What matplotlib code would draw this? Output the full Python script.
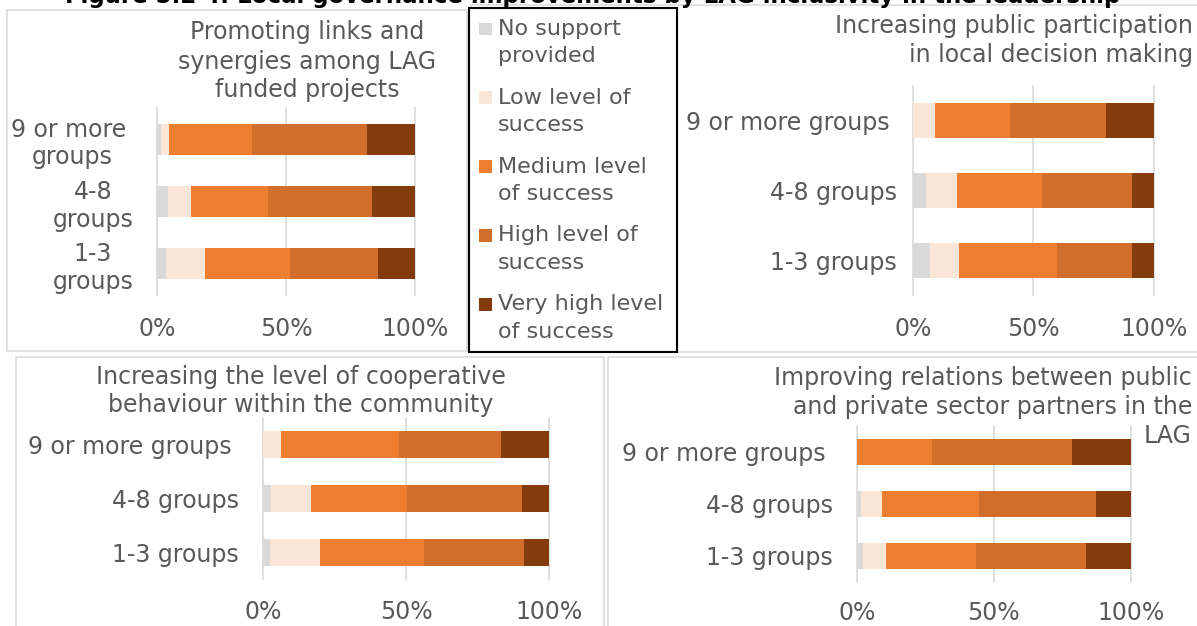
import numpy as np
import matplotlib
matplotlib.use("Agg")
import matplotlib.pyplot as plt
from matplotlib.patches import Rectangle
from matplotlib.ticker import PercentFormatter, MultipleLocator

# Share of LAGs (%) per level of success, rows: 9 or more / 4-8 / 1-3 groups
groups = ["9 or more groups ", "4-8 groups", "1-3 groups"]
groups_wrapped = ["9 or more \ngroups", "4-8\ngroups", "1-3\ngroups"]
levels = ["No support provided", "Low level of success", "Medium level of success",
          "High level of success", "Very high level of success"]
legend_lines = [["No support", "provided"], ["Low level of", "success"],
                ["Medium level", "of success"], ["High level of", "success"],
                ["Very high level", "of success"]]

links = [[1.5, 3.3, 32.1, 44.6, 18.5],
         [4.3, 8.7, 30.2, 40.3, 16.5],
         [3.6, 15.1, 32.7, 34.1, 14.5]]
participation = [[0.0, 9.3, 30.9, 39.9, 19.9],
                 [5.7, 12.7, 35.1, 37.4, 9.1],
                 [7.2, 12.2, 40.4, 31.3, 8.9]]
cooperation = [[0.0, 6.1, 41.5, 35.4, 17.0],
               [2.7, 14.1, 33.3, 40.3, 9.6],
               [2.2, 17.5, 36.4, 35.0, 8.9]]
relations = [[0.0, 0.0, 27.6, 50.9, 21.5],
             [1.6, 7.8, 35.4, 42.7, 12.5],
             [2.3, 8.4, 32.7, 40.3, 16.3]]

level_colors = ["#D9D9D9", "#FBE5D6", "#ED7D31", "#D26E2B", "#843C0C"]
TEXT = "#595959"
GRID = "#D9D9D9"
FS = 17

W, H = 1197, 626
fig = plt.figure(figsize=(W / 100, H / 100), dpi=100)


def place_axes(left, top, right, bottom):
    return fig.add_axes([left / W, 1 - bottom / H, (right - left) / W, (bottom - top) / H])


def frame(left, top, right, bottom, color=GRID, lw=1.1, fill=False, z=1):
    fig.add_artist(Rectangle((left / W, 1 - bottom / H), (right - left) / W, (bottom - top) / H,
                             transform=fig.transFigure, fill=fill, facecolor="white",
                             edgecolor=color, lw=lw, zorder=z))


def text_lines(lines, x, ys, ha, size=FS):
    for line, y in zip(lines, ys):
        fig.text(x / W, 1 - y / H, line, ha=ha, va="center", fontsize=size, color=TEXT)


def draw_panel(ax, rows, labels, ypad, xpad):
    rows = np.array(rows)
    y = np.arange(len(labels))
    left = np.zeros(len(labels))
    for i, color in enumerate(level_colors):
        ax.barh(y, rows[:, i], left=left, height=0.5, color=color, lw=0, zorder=2)
        left += rows[:, i]
    ax.set_xlim(0, 100)
    ax.set_ylim(2.5, -0.5)
    ax.xaxis.set_major_locator(MultipleLocator(50))
    ax.xaxis.set_major_formatter(PercentFormatter(100, decimals=0))
    ax.set_yticks(y, labels, multialignment="center")
    ax.tick_params(axis="y", length=0, pad=ypad, labelsize=FS, labelcolor=TEXT)
    ax.tick_params(axis="x", length=0, pad=xpad, labelsize=FS, labelcolor=TEXT)
    ax.grid(axis="x", color=GRID, lw=1.2, zorder=0)
    ax.set_axisbelow(True)
    for s in ax.spines.values():
        s.set_visible(False)
    for gl in ax.get_xgridlines():
        gl.set_clip_on(False)


# panel frames
frame(7, 10, 467, 351)
frame(471, 5, 1200, 352)
frame(16, 357, 604, 630)
frame(608, 357, 1200, 630)

# figure title, mostly cut off at the top edge (as in the source page)
fig.text(65 / W, 1 - 3.5 / H,
         "Figure 5.2 4: Local governance improvements by LAG inclusivity in the leadership",
         ha="left", va="baseline", fontsize=16.5, weight="bold", color="black")

# 1) links and synergies
ax1 = place_axes(157, 108, 415, 295)
draw_panel(ax1, links, groups_wrapped, 17, 16)
text_lines(["Promoting links and", "synergies among LAG", "funded projects"], 307, [32, 62, 90], "center")

# 2) public participation
ax2 = place_axes(912.7, 86, 1153.7, 295)
draw_panel(ax2, participation, groups, 11.3, 16)
text_lines(["Increasing public participation", "in local decision making"], 1193, [26, 55], "right")

# 3) cooperative behaviour
ax3 = place_axes(263.3, 418, 549.3, 579)
draw_panel(ax3, cooperation, groups, 17.5, 15)
text_lines(["Increasing the level of cooperative", "behaviour within the community"], 301, [377, 405], "center")

# 4) public-private relations
ax4 = place_axes(856.7, 426, 1130.7, 582)
draw_panel(ax4, relations, groups, 17.3, 14)
text_lines(["Improving relations between public", "and private sector partners in the", "LAG"],
           1192, [378, 407, 436], "right")

# legend box in the middle
frame(469, 8, 677, 352, color="black", lw=1.5, fill=True, z=5)
for i, (lines, color) in enumerate(zip(legend_lines, level_colors)):
    yc = 29 + i * 68.8
    fig.add_artist(Rectangle((479 / W, 1 - (yc + 6.3) / H), 12.6 / W, 12.6 / H,
                             transform=fig.transFigure, color=color, lw=0, zorder=6))
    for j, line in enumerate(lines):
        t = fig.text(497.7 / W, 1 - (yc + j * 27.5) / H, line, ha="left", va="center",
                     fontsize=16, color=TEXT)
        t.set_zorder(6)

fig.savefig("out.png", dpi=100)
